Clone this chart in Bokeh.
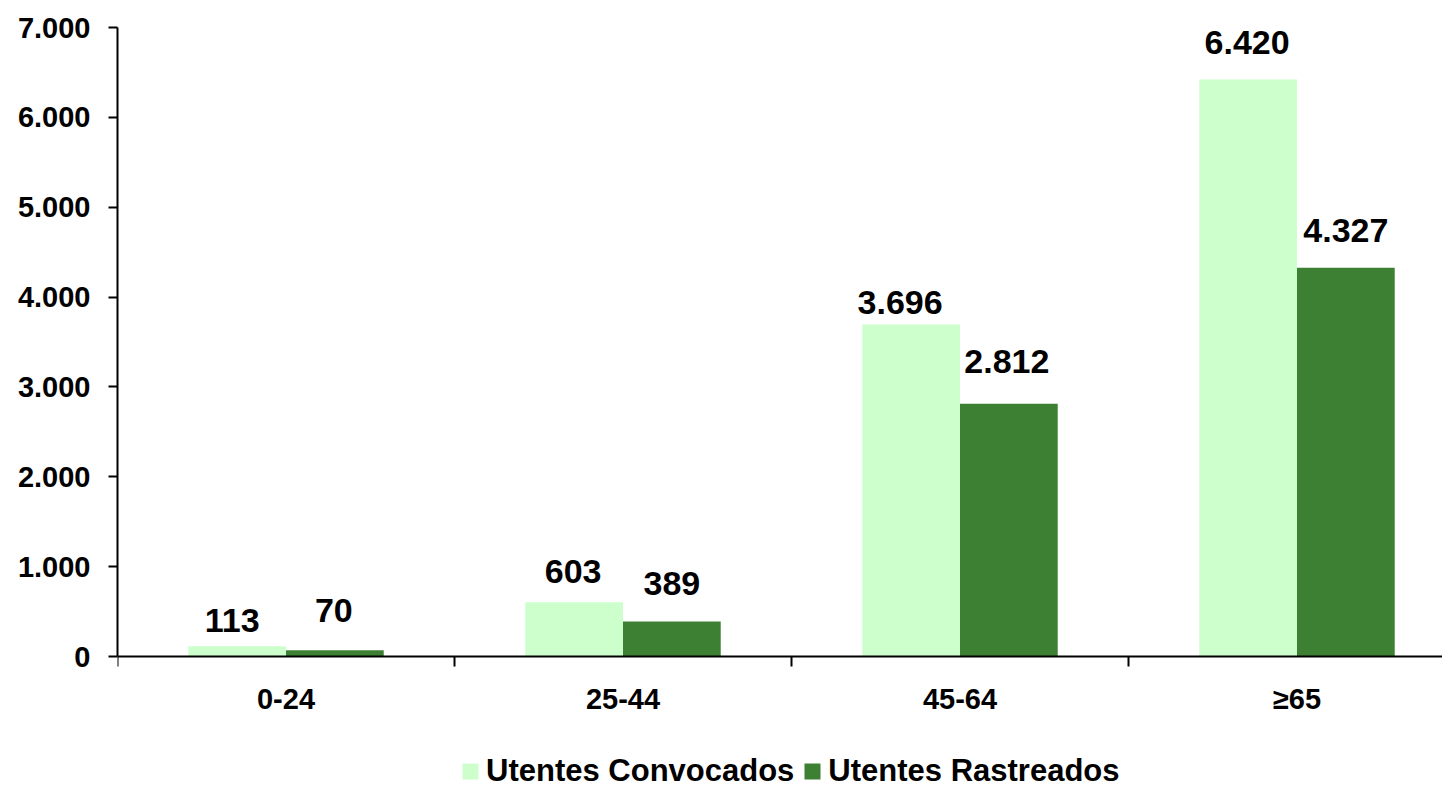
import numpy as np
from bokeh.plotting import figure
from bokeh.models import (ColumnDataSource, Range1d, FixedTicker, LinearAxis,
                          Legend, LegendItem, LabelSet)
from bokeh.core.properties import value
from bokeh.embed import file_html
from bokeh.resources import INLINE

categories = ["0-24", "25-44", "45-64", "≥65"]
series_names = ["Utentes Convocados", "Utentes Rastreados"]
convocados = [113, 603, 3696, 6420]
rastreados = [70, 389, 2812, 4327]
y_ticks = [0, 1000, 2000, 3000, 4000, 5000, 6000, 7000]

# label placement nudges (pixels), as laid out in the original chart
conv_label_dx = [-5, -1, -11, -1]
conv_label_dy = [14, 19, 10, 26]
rast_label_dx = [-1, 0, -2, 0]
rast_label_dy = [28, 27, 31, 26]

COL_LIGHT = "#CCFFCC"
COL_DARK = "#3D8033"
FONT = "Liberation Sans"

W, H = 1442, 790
LEFT, TOP = 117, 27
PLOT_H = 629            # pixels from 0 to 7000
Y_MAX = 7000
units_per_px = Y_MAX / PLOT_H
y_min = -(H - TOP - PLOT_H) * units_per_px


def fmt(v):
    return f"{v:,}".replace(",", ".")


idx = np.arange(len(categories))
bar_w = 0.29
x_conv = idx + 0.5 - bar_w / 2
x_rast = idx + 0.5 + bar_w / 2

p = figure(width=W, height=H, output_backend="svg", toolbar_location=None,
           x_range=Range1d(0, (W - LEFT) / 337), y_range=Range1d(y_min, Y_MAX),
           x_axis_type=None, y_axis_type=None,
           min_border_left=LEFT, min_border_right=0, min_border_top=TOP,
           min_border_bottom=0)
p.outline_line_color = None
p.xgrid.visible = False
p.ygrid.visible = False

src_c = ColumnDataSource(dict(x=x_conv, top=convocados,
                              label=[fmt(v) for v in convocados],
                              dx=conv_label_dx, dy=conv_label_dy))
src_r = ColumnDataSource(dict(x=x_rast, top=rastreados,
                              label=[fmt(v) for v in rastreados],
                              dx=rast_label_dx, dy=rast_label_dy))

r1 = p.vbar(x="x", top="top", bottom=0, width=bar_w, source=src_c,
            fill_color=COL_LIGHT, line_color=None)
r2 = p.vbar(x="x", top="top", bottom=0, width=bar_w, source=src_r,
            fill_color=COL_DARK, line_color=None)

for src in (src_c, src_r):
    p.add_layout(LabelSet(x="x", y="top", text="label", source=src,
                          x_offset="dx", y_offset="dy", text_align="center",
                          text_baseline="alphabetic",
                          text_font=value(FONT), text_font_style="bold",
                          text_font_size="34px", text_color="black"))

# y axis
yax = LinearAxis(ticker=FixedTicker(ticks=y_ticks), bounds=(0, Y_MAX))
yax.major_label_overrides = {t: fmt(t) for t in y_ticks}
yax.major_label_text_font = FONT
yax.major_label_text_font_style = "bold"
yax.major_label_text_font_size = "29px"
yax.major_label_text_color = "black"
yax.major_tick_in = 0
yax.major_tick_out = 9
yax.major_tick_line_width = 2
yax.minor_tick_line_color = None
yax.axis_line_width = 2
yax.major_label_standoff = 18
p.add_layout(yax, "left")

# x axis at y=0: labels at category centres, separators as minor ticks
centers = list(idx + 0.5)
xax = LinearAxis(ticker=FixedTicker(ticks=centers,
                                    minor_ticks=list(range(len(categories) + 1))),
                 fixed_location=0)
xax.major_label_overrides = {c: categories[i] for i, c in enumerate(centers)}
xax.major_label_text_font = FONT
xax.major_label_text_font_style = "bold"
xax.major_label_text_font_size = "29px"
xax.major_label_text_color = "black"
xax.major_tick_in = 0
xax.major_tick_out = 0
xax.minor_tick_in = 0
xax.minor_tick_out = 10
xax.minor_tick_line_width = 2
xax.minor_tick_line_color = "black"
xax.axis_line_width = 2
xax.major_label_standoff = 16
p.add_layout(xax, "below")

legend = Legend(items=[LegendItem(label=series_names[0], renderers=[r1]),
                       LegendItem(label=series_names[1], renderers=[r2])],
                orientation="horizontal", location=(343, 1),
                glyph_width=20, glyph_height=20, label_standoff=6, spacing=8,
                padding=0, margin=0, border_line_color=None,
                background_fill_alpha=0,
                label_text_font=FONT, label_text_font_style="bold",
                label_text_font_size="31px", label_text_color="black")
p.add_layout(legend)

open("out.html", "w").write(file_html(p, INLINE))
